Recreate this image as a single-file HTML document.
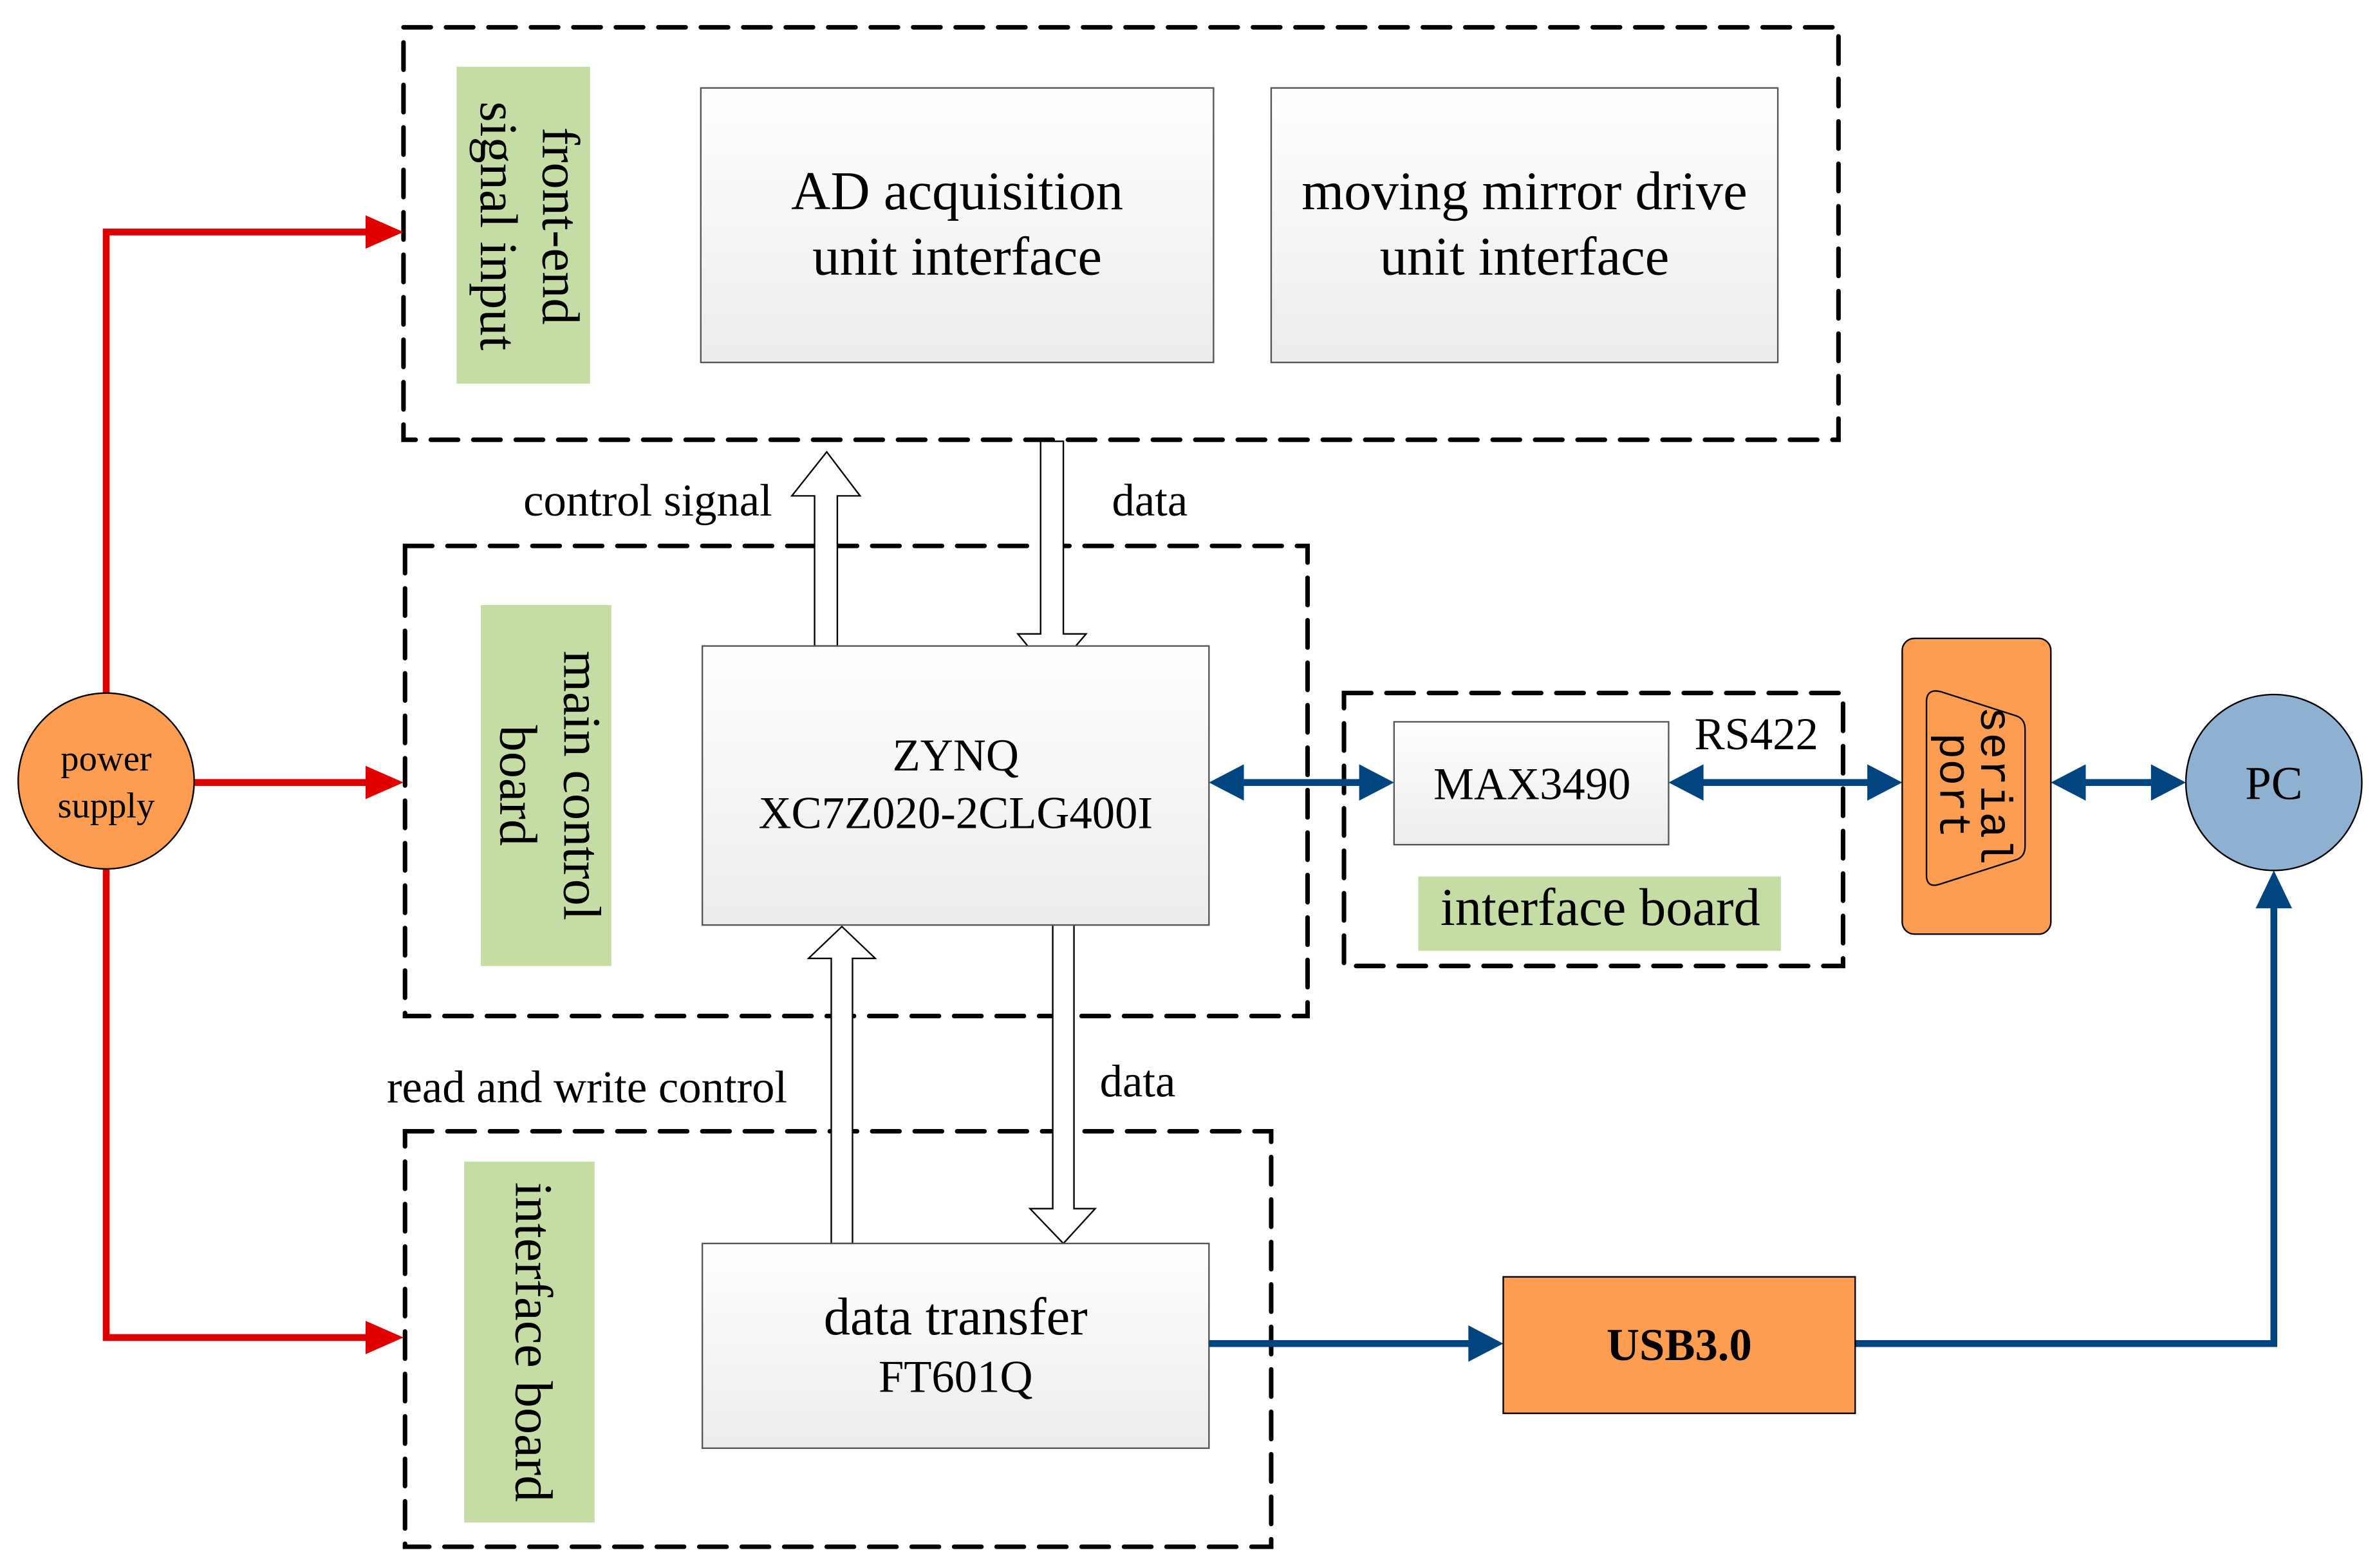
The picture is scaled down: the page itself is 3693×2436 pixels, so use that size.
<!DOCTYPE html>
<html><head><meta charset="utf-8"><style>html,body{margin:0;padding:0;background:#fff}svg{display:block}</style></head>
<body>
<svg width="3693" height="2436" viewBox="0 0 1567 1034" preserveAspectRatio="none" xmlns="http://www.w3.org/2000/svg" font-family="'Liberation Serif', serif">
<defs>
<linearGradient id="g" x1="0" y1="0" x2="0" y2="1"><stop offset="0" stop-color="#ffffff"/><stop offset="1" stop-color="#ececec"/></linearGradient>
</defs>
<g fill="none" stroke="#000" stroke-width="3" stroke-dasharray="18 10" stroke-linecap="round">
<rect x="266" y="18" width="946" height="272"/>
<rect x="267" y="360" width="595" height="310"/>
<rect x="886" y="457" width="329" height="180"/>
<rect x="267" y="746" width="571" height="274"/>
</g>
<g fill="#c5dca5">
<rect x="301" y="44" width="88" height="209"/>
<rect x="317" y="399" width="86" height="238"/>
<rect x="306" y="766" width="86" height="238"/>
<rect x="935" y="578" width="239" height="49"/>
</g>
<g font-size="35" fill="#000" text-anchor="middle">
<text transform="translate(358,149) rotate(90)">front-end</text>
<text transform="translate(317,149) rotate(90)">signal input</text>
<text transform="translate(372,518) rotate(90)">main control</text>
<text transform="translate(330,518) rotate(90)">board</text>
<text transform="translate(340,885) rotate(90)">interface board</text>
<text x="1055" y="610">interface board</text>
</g>
<g fill="#fff" stroke="#000" stroke-width="1">
<path d="M537,426 L537,327 L522,327 L545,298 L567,327 L552,327 L552,426 Z"/>
<path d="M686,291 L701,291 L701,418 L716,418 L693,445 L671,418 L686,418 Z"/>
<path d="M548,820 L548,632 L533,632 L555,611 L577,632 L562,632 L562,820 Z"/>
<path d="M694,600 L708,600 L708,797 L722,797 L701,820 L679,797 L694,797 Z"/>
</g>
<g fill="url(#g)" stroke="#555" stroke-width="1">
<rect x="462" y="58" width="338" height="181"/>
<rect x="838" y="58" width="334" height="181"/>
<rect x="463" y="426" width="334" height="184"/>
<rect x="919" y="476" width="181" height="81"/>
<rect x="463" y="820" width="334" height="135"/>
</g>
<g fill="#000" text-anchor="middle">
<text x="631" y="138" font-size="36">AD acquisition</text>
<text x="631" y="181" font-size="36">unit interface</text>
<text x="1005" y="138" font-size="36">moving mirror drive</text>
<text x="1005" y="181" font-size="36">unit interface</text>
<text x="630" y="508" font-size="30">ZYNQ</text>
<text x="630" y="546" font-size="30">XC7Z020-2CLG400I</text>
<text x="1010" y="527" font-size="30">MAX3490</text>
<text x="630" y="880" font-size="35">data transfer</text>
<text x="630" y="918" font-size="30">FT601Q</text>
</g>
<g fill="#000" font-size="30">
<text x="345" y="340">control signal</text>
<text x="733" y="340">data</text>
<text x="255" y="727">read and write control</text>
<text x="725" y="723">data</text>
<text x="1117" y="494">RS422</text>
</g>
<g stroke="#e00000" stroke-width="4.5" fill="none">
<polyline points="70,457 70,153 244,153"/>
<line x1="128" y1="516" x2="244" y2="516"/>
<polyline points="70,573 70,882 244,882"/>
</g>
<g fill="#e00000">
<polygon points="241,142 266,153 241,164"/>
<polygon points="241,505 266,516 241,527"/>
<polygon points="241,871 266,882 241,893"/>
</g>
<ellipse cx="70" cy="515" rx="58" ry="58" fill="#fd9d51" stroke="#000" stroke-width="1"/>
<text x="70" y="508" font-size="24" text-anchor="middle">power</text>
<text x="70" y="539" font-size="24" text-anchor="middle">supply</text>
<g stroke="#00457f" stroke-width="4.5" fill="none">
<line x1="815" y1="516" x2="900" y2="516"/>
<line x1="1118" y1="516" x2="1234" y2="516"/>
<line x1="1370" y1="516" x2="1422" y2="516"/>
<line x1="797" y1="886" x2="972" y2="886"/>
<polyline points="1223,886 1499,886 1499,596"/>
</g>
<g fill="#00457f">
<polygon points="797,516 820,504 820,528"/>
<polygon points="919,516 896,504 896,528"/>
<polygon points="1100,516 1123,504 1123,528"/>
<polygon points="1254,516 1231,504 1231,528"/>
<polygon points="1352,516 1375,504 1375,528"/>
<polygon points="1441,516 1418,504 1418,528"/>
<polygon points="991,886 968,874 968,898"/>
<polygon points="1499,574 1487,599 1511,599"/>
</g>
<rect x="1254" y="421" width="98" height="195" rx="8" fill="#fd9d51" stroke="#000" stroke-width="1"/>
<path d="M1270,463 Q1270,454 1279,456 L1329,472 Q1335,474 1335,481 L1335,558 Q1335,565 1329,567 L1279,583 Q1270,586 1270,577 Z" fill="none" stroke="#000" stroke-width="1"/>
<g font-family="'Liberation Mono', monospace" font-size="29" fill="#000" text-anchor="middle">
<text transform="translate(1306,518) rotate(90)">serial</text>
<text transform="translate(1279,518) rotate(90)">port</text>
</g>
<ellipse cx="1499" cy="516" rx="58" ry="58" fill="#8eb1d1" stroke="#000" stroke-width="1"/>
<text x="1499" y="527" font-size="31" text-anchor="middle">PC</text>
<rect x="991" y="842" width="232" height="90" fill="#fd9d51" stroke="#000" stroke-width="1"/>
<text x="1107" y="897" font-size="30" font-weight="bold" text-anchor="middle">USB3.0</text>
</svg>
</body></html>
